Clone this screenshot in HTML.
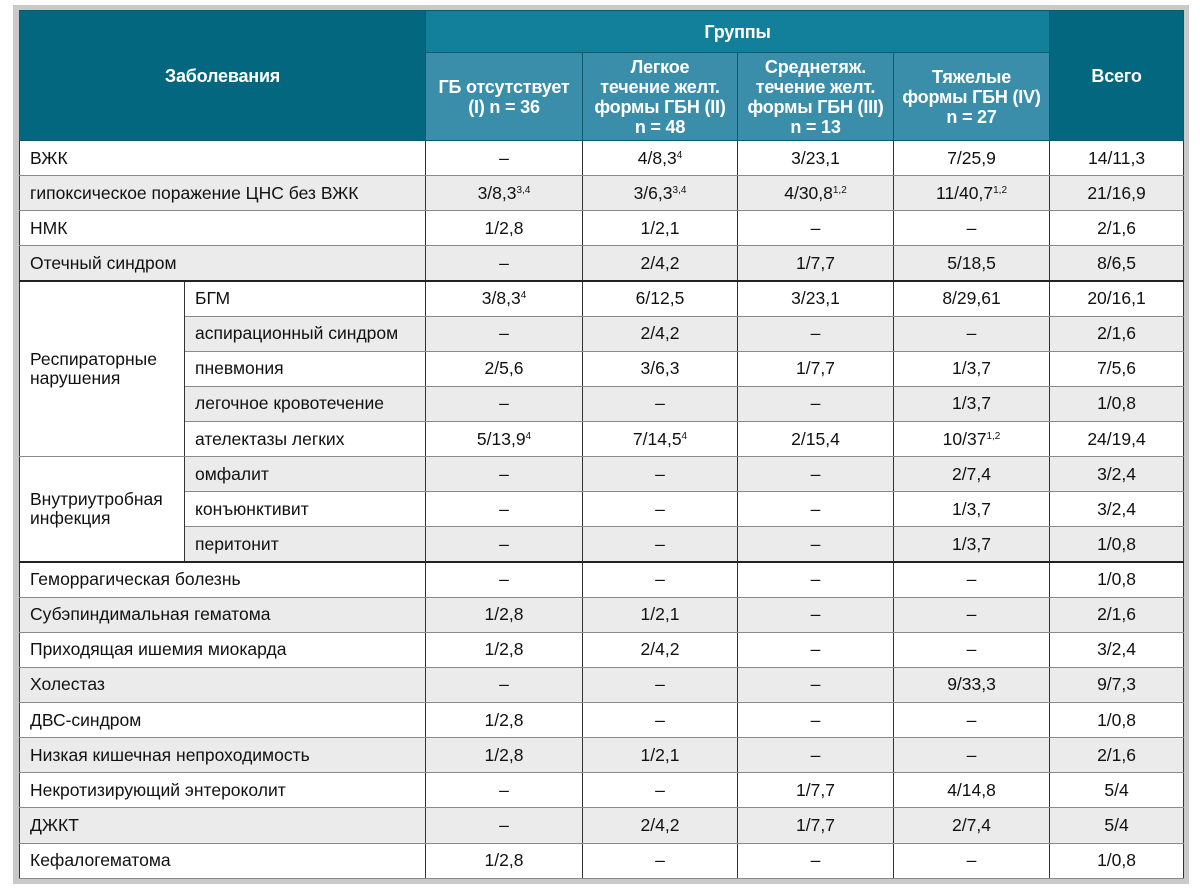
<!DOCTYPE html>
<html><head><meta charset="utf-8"><style>
body{margin:0;width:1200px;height:889px;background:#fff;overflow:hidden;font-family:"Liberation Sans","DejaVu Sans",sans-serif;}
.frame{position:absolute;left:13px;top:5px;width:1176px;height:879px;background:#c9c9c9;}
table{position:absolute;left:19px;top:10px;width:1164px;border-collapse:collapse;table-layout:fixed;font-size:17.5px;color:#111;}
td,th{padding:0;border:1px solid #8a8a8a;border-left:1px solid #333;border-right:1px solid #333;background:#fff;}
th{color:#fff;font-weight:bold;font-size:18px;line-height:20px;border-color:#0d5a70;letter-spacing:-0.2px;}
th.h1{background:#03677f;}
th.hg{background:#13809b;height:41px;}
th.hs{background:#3b8eaa;height:87px;}
tbody tr{height:35.14px;}
tbody td{text-align:center;}
tbody td.l{text-align:left;padding-left:10px;}
tr.g td{background:#ebebeb;}
tr.g td.w{background:#fff;}
tr.t td{border-top:2px solid #222;}
sup{font-size:10px;vertical-align:6px;line-height:0;}
</style></head><body>
<div class="frame"></div>
<table>
<colgroup><col style="width:165px"><col style="width:241px"><col style="width:157px"><col style="width:155px"><col style="width:156px"><col style="width:156px"><col style="width:134px"></colgroup>
<thead>
<tr><th class="h1" colspan="2" rowspan="2">Заболевания</th><th class="hg" colspan="4">Группы</th><th class="h1" rowspan="2">Всего</th></tr>
<tr><th class="hs">ГБ отсутствует<br>(I) n = 36</th><th class="hs">Легкое<br>течение желт.<br>формы ГБН (II)<br>n = 48</th><th class="hs">Среднетяж.<br>течение желт.<br>формы ГБН (III)<br>n = 13</th><th class="hs">Тяжелые<br>формы ГБН (IV)<br>n = 27</th></tr>
</thead>
<tbody>
<tr><td class="l" colspan="2">ВЖК</td><td>–</td><td>4/8,3<sup>4</sup></td><td>3/23,1</td><td>7/25,9</td><td>14/11,3</td></tr>
<tr class="g"><td class="l" colspan="2">гипоксическое поражение ЦНС без ВЖК</td><td>3/8,3<sup>3,4</sup></td><td>3/6,3<sup>3,4</sup></td><td>4/30,8<sup>1,2</sup></td><td>11/40,7<sup>1,2</sup></td><td>21/16,9</td></tr>
<tr><td class="l" colspan="2">НМК</td><td>1/2,8</td><td>1/2,1</td><td>–</td><td>–</td><td>2/1,6</td></tr>
<tr class="g"><td class="l" colspan="2">Отечный синдром</td><td>–</td><td>2/4,2</td><td>1/7,7</td><td>5/18,5</td><td>8/6,5</td></tr>
<tr class="t"><td class="l" rowspan="5" style="line-height:19px">Респираторные<br>нарушения</td><td class="l">БГМ</td><td>3/8,3<sup>4</sup></td><td>6/12,5</td><td>3/23,1</td><td>8/29,61</td><td>20/16,1</td></tr>
<tr class="g"><td class="l">аспирационный синдром</td><td>–</td><td>2/4,2</td><td>–</td><td>–</td><td>2/1,6</td></tr>
<tr><td class="l">пневмония</td><td>2/5,6</td><td>3/6,3</td><td>1/7,7</td><td>1/3,7</td><td>7/5,6</td></tr>
<tr class="g"><td class="l">легочное кровотечение</td><td>–</td><td>–</td><td>–</td><td>1/3,7</td><td>1/0,8</td></tr>
<tr><td class="l">ателектазы легких</td><td>5/13,9<sup>4</sup></td><td>7/14,5<sup>4</sup></td><td>2/15,4</td><td>10/37<sup>1,2</sup></td><td>24/19,4</td></tr>
<tr class="g"><td class="l w" rowspan="3" style="line-height:19px">Внутриутробная<br>инфекция</td><td class="l">омфалит</td><td>–</td><td>–</td><td>–</td><td>2/7,4</td><td>3/2,4</td></tr>
<tr><td class="l">конъюнктивит</td><td>–</td><td>–</td><td>–</td><td>1/3,7</td><td>3/2,4</td></tr>
<tr class="g"><td class="l">перитонит</td><td>–</td><td>–</td><td>–</td><td>1/3,7</td><td>1/0,8</td></tr>
<tr class="t"><td class="l" colspan="2">Геморрагическая болезнь</td><td>–</td><td>–</td><td>–</td><td>–</td><td>1/0,8</td></tr>
<tr class="g"><td class="l" colspan="2">Субэпиндимальная гематома</td><td>1/2,8</td><td>1/2,1</td><td>–</td><td>–</td><td>2/1,6</td></tr>
<tr><td class="l" colspan="2">Приходящая ишемия миокарда</td><td>1/2,8</td><td>2/4,2</td><td>–</td><td>–</td><td>3/2,4</td></tr>
<tr class="g"><td class="l" colspan="2">Холестаз</td><td>–</td><td>–</td><td>–</td><td>9/33,3</td><td>9/7,3</td></tr>
<tr><td class="l" colspan="2">ДВС-синдром</td><td>1/2,8</td><td>–</td><td>–</td><td>–</td><td>1/0,8</td></tr>
<tr class="g"><td class="l" colspan="2">Низкая кишечная непроходимость</td><td>1/2,8</td><td>1/2,1</td><td>–</td><td>–</td><td>2/1,6</td></tr>
<tr><td class="l" colspan="2">Некротизирующий энтероколит</td><td>–</td><td>–</td><td>1/7,7</td><td>4/14,8</td><td>5/4</td></tr>
<tr class="g"><td class="l" colspan="2">ДЖКТ</td><td>–</td><td>2/4,2</td><td>1/7,7</td><td>2/7,4</td><td>5/4</td></tr>
<tr><td class="l" colspan="2">Кефалогематома</td><td>1/2,8</td><td>–</td><td>–</td><td>–</td><td>1/0,8</td></tr>
</tbody>
</table>
</body></html>
